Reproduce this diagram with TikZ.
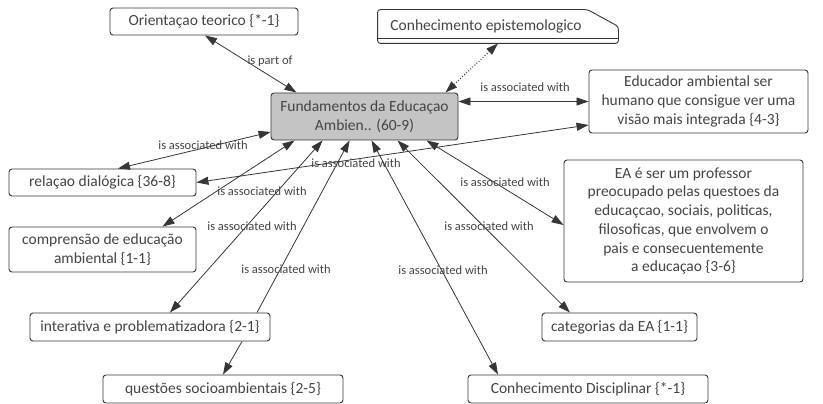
\documentclass[tikz,border=0pt]{standalone}
\usepackage{fontspec}
\setmainfont{Carlito}
\usetikzlibrary{arrows.meta}
\definecolor{conceptgray}{HTML}{C4C4C4}
\definecolor{inkgray}{HTML}{363636}
\definecolor{textgray}{HTML}{444444}

\tikzset{
  concept/.style={draw=inkgray, rounded corners=3pt, line width=0.9pt, text=textgray,
    font=\fontsize{15.5}{18.7}\selectfont, align=center, inner sep=0pt},
  linkname/.style={text=textgray, font=\fontsize{12.5}{14}\selectfont, inner sep=0pt},
  link/.style={draw=inkgray, line width=0.8pt},
}

\begin{document}
\begin{tikzpicture}[x=1pt, y=-1pt, >={Triangle[length=12pt,width=8pt]}]
\useasboundingbox (0,0) rectangle (823,404);

% concepts
\node[concept, fill=conceptgray, minimum width=187pt, minimum height=47pt] (fund) at (364.5,116.5) {Fundamentos da Educaçao\\Ambien.. (60-9)};
\node[concept, minimum width=188pt, minimum height=27pt] (orient) at (204,21.5) {Orientaçao teorico \{*-1\}};
\node[concept, draw=none, minimum width=216pt, minimum height=33pt] (episte) at (486,26.5) {Conhecimento epistemologico};
\node[concept, minimum width=219pt, minimum height=63pt] (educ) at (698.5,101.5) {Educador ambiental ser\\humano que consigue ver uma\\visão mais integrada \{4-3\}};
\node[concept, minimum width=187pt, minimum height=27pt] (rel) at (102.5,182.5) {relaçao dialógica \{36-8\}};
\node[concept, minimum width=187pt, minimum height=45pt] (compr) at (102.5,249.5) {comprensão de educação\\ambiental \{1-1\}};
\node[concept, minimum width=239pt, minimum height=122pt] (easer) at (683.5,221) {EA é ser um professor\\preocupado pelas questoes da\\educaçcao, sociais, politicas,\\filosoficas, que envolvem o\\pais e consecuentemente\\a educaçao \{3-6\}};
\node[concept, minimum width=240pt, minimum height=28pt] (inter) at (150,327) {interativa e problematizadora \{2-1\}};
\node[concept, minimum width=155pt, minimum height=28pt] (categ) at (619.5,327) {categorias da EA \{1-1\}};
\node[concept, minimum width=240pt, minimum height=28pt] (quest) at (223,389) {questões socioambientais \{2-5\}};
\node[concept, minimum width=240pt, minimum height=28pt] (discip) at (588,389) {Conhecimento Disciplinar \{*-1\}};

% outline of the cut corner concept
\draw[concept] (episte.north west) -- ([xshift=-7pt]episte.north east)
  -- ([xshift=24pt,yshift=-17pt]episte.north east) -- ([xshift=24pt]episte.south east)
  -- (episte.south west) -- cycle;
\draw[link, line width=0.9pt] ([yshift=5pt]episte.south west) -- ([xshift=24pt,yshift=5pt]episte.south east);

% links
\draw[link,<->] ([xshift=1pt]orient.south) -- ([xshift=26pt]fund.north west);
\draw[link,<->,dotted, line width=1.2pt] ([xshift=12pt]episte.south) -- ([xshift=-13pt]fund.north east);
\draw[link,<->] (fund.east |- educ.west) -- (educ.west);
\draw[link,<->] ([xshift=15.5pt]rel.north) -- ([yshift=-15.5pt]fund.west);
\draw[link,<->] (rel.east) -- ([yshift=-23.5pt]educ.west);
\draw[link,<->] ([xshift=60pt]compr.north) -- ([xshift=24pt]fund.south west);
\draw[link,<->] ([xshift=20pt]inter.north) -- ([xshift=52pt]fund.south west);
\draw[link,->] ([xshift=107pt]inter.north) -- ([xshift=79pt]fund.south west);
\draw[link,->] ([xshift=92pt]inter.south) -- (quest.north);
\draw[link,<->] ([xshift=101pt]fund.south west) -- ([xshift=-90pt]discip.north);
\draw[link,<->] ([xshift=127pt]fund.south west) -- ([xshift=-49.5pt]categ.north);
\draw[link,<->] ([xshift=156pt]fund.south west) -- ([yshift=-4pt]easer.west);

% link names
\node[linkname] (partof) at (270,61) {is part of};
\node[linkname] (assoceduc) at (525,87) {is associated with};
\node[linkname] (assocrel) at (203,145) {is associated with};
\node[linkname] (assocrelb) at (356,163) {is associated with};
\node[linkname] (assoccompr) at (262,191) {is associated with};
\node[linkname] (assocint) at (252,226) {is associated with};
\node[linkname] (associntb) at (286,269) {is associated with};
\node[linkname] (assocdis) at (443,270) {is associated with};
\node[linkname] (assoccat) at (489,226) {is associated with};
\node[linkname] (assocea) at (505,182) {is associated with};

\end{tikzpicture}
\end{document}
